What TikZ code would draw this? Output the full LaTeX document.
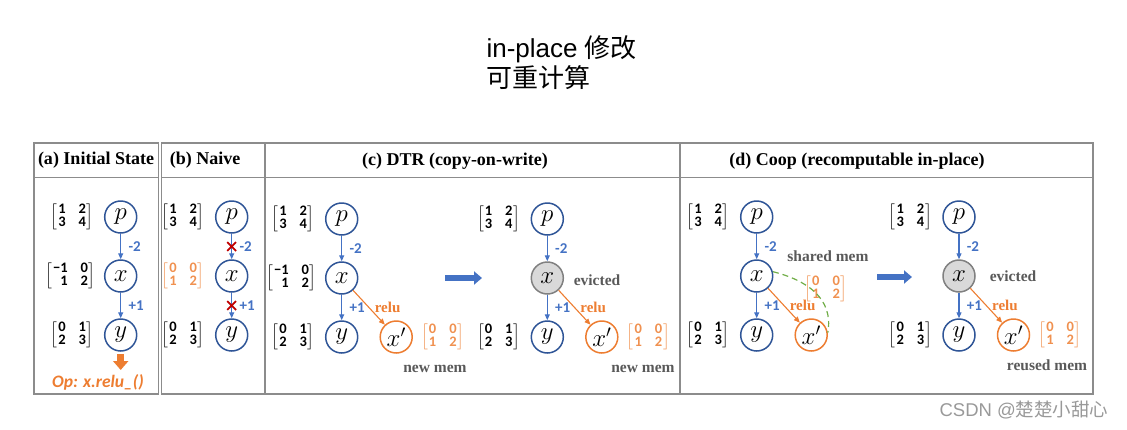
\documentclass[tikz,border=0pt]{standalone}
\usepackage{amsmath}
\usepackage{fontspec}
\setmainfont{Liberation Serif}
\setsansfont{Liberation Sans}
\newfontfamily\calfont{Carlito}
\newfontfamily\cjkfont{Noto Sans CJK SC}
\usetikzlibrary{positioning, arrows.meta, calc, shapes.misc}
\definecolor{cBlue}{HTML}{4472C4}
\definecolor{cNavy}{HTML}{2F5597}
\definecolor{cOrange}{HTML}{ED7D31}
\definecolor{cRed}{HTML}{C00000}
\definecolor{cGreen}{HTML}{70AD47}
\definecolor{cGray}{HTML}{595959}
\definecolor{cFrame}{HTML}{8C8C8C}

% 2x2 matrix with bold digits
\newcommand{\tmat}[4]{{\def\arraystretch{0.86}%
    $\left[\begin{array}{@{\hspace{1pt}}r@{\hspace{13pt}}r@{\hspace{1pt}}}
    \text{#1} & \text{#2}\\ \text{#3} & \text{#4}
    \end{array}\right]$}}

\begin{document}
\begin{tikzpicture}[
    x=1pt, y=-1pt,
    >=Latex,
    circ/.style={
        circle, draw=cNavy, line width=1.5pt, minimum size=32pt,
        inner sep=0pt, fill=white, font=\fontsize{24}{24}\selectfont
    },
    ocirc/.style={circ, draw=cOrange},
    evic/.style={draw=black!50, fill=black!15},
    mat/.style={inner sep=0pt, font=\calfont\bfseries\fontsize{14.5}{15}\selectfont},
    omat/.style={mat, text=cOrange!85},
    arr/.style={-{Triangle[length=6pt, width=5pt]}, line width=1.1pt, draw=cBlue},
    oarr/.style={arr, draw=cOrange},
    lab/.style={font=\calfont\bfseries\fontsize{15}{15}\selectfont, text=cBlue},
    olab/.style={font=\bfseries\fontsize{15}{15}\selectfont, text=cOrange},
    note/.style={font=\bfseries\fontsize{15.5}{16}\selectfont, text=cGray, inner sep=1pt},
    head/.style={font=\bfseries\fontsize{18}{20}\selectfont},
    frame/.style={draw=cFrame, line width=1.3pt},
    bigarr/.style={line width=6pt, draw=cBlue, -{Triangle[length=8pt, width=13pt]}},
    xmark/.style={cross out, draw=cRed, line width=1.8pt, minimum size=7pt, inner sep=0pt},
    share/.style={draw=cGreen, line width=1.2pt, dash pattern=on 6pt off 4pt},
]
\useasboundingbox (0,0) rectangle (1127,429);

% --- Helper: p -> x -> y chain (#1 = prefix, #2 = x, #3 = y of p, #4 = style of x) ---
\newcommand{\drawchain}[4]{%
    \node[circ] (#1P) at (#2, #3) {$p$};
    \node[circ, #4] (#1X) at (#2, #3+59) {$x$};
    \node[circ] (#1Y) at (#2, #3+118) {$y$};
    \node[mat, left=10pt of #1P] (#1MP) {\tmat{1}{2}{3}{4}};
    \node[mat, left=10pt of #1Y] (#1MY) {\tmat{0}{1}{2}{3}};
    \draw[arr] (#1P) -- (#1X) node[lab, midway, right=4pt] {-2};
    \draw[arr] (#1X) -- (#1Y) node[lab, midway, right=4pt] {+1};
}

% =============================================
% TITLE
% =============================================
\node[font=\sffamily\fontsize{26}{30}\selectfont, align=left, anchor=west] (title)
    at (483,63) {in-place {\cjkfont 修改}\\{\cjkfont 可重计算}};

% =============================================
% TABLE FRAME
% =============================================
\draw[frame] (34,143) rectangle (158.5,394);
\draw[frame] (161.5,143) rectangle (1093,394);
\draw[frame] (34,177.5) -- (158.5,177.5);
\draw[frame] (161.5,177.5) -- (1093,177.5);
\draw[frame] (265,143) -- (265,394);
\draw[frame] (680,143) -- (680,394);

\node[head] (hA) at (96,160) {(a) Initial State};
\node[head] (hB) at (205,160) {(b) Naive};
\node[head] (hC) at (455,161) {(c) DTR (copy-on-write)};
\node[head] (hD) at (857,161) {(d) Coop (recomputable in-place)};

% =============================================
% (a) INITIAL STATE
% =============================================
\drawchain{a}{120.7}{217}{}
\node[mat, left=8pt of aX] (aMX) {\tmat{−1}{0}{1}{2}};

\node[font=\calfont\bfseries\itshape\fontsize{17.5}{18}\selectfont, text=cOrange] (aOp)
    at (98,382) {Op: x.relu\_()};
\coordinate (aOpTop) at (120.7,370);
\draw[line width=6.5pt, draw=cOrange, -{Triangle[length=9pt, width=15pt]}, shorten <=2pt]
    (aY) -- (aOpTop);

% =============================================
% (b) NAIVE
% =============================================
\drawchain{b}{231.7}{217}{}
\node[omat, left=10pt of bX] (bMX) {\tmat{0}{0}{1}{2}};
\node[xmark] (bCr1) at ($(bP)!0.5!(bX)$) {};
\node[xmark] (bCr2) at ($(bX)!0.5!(bY)$) {};

% =============================================
% (c) DTR (copy-on-write)
% =============================================
\drawchain{c1}{341.7}{219}{}
\node[mat, left=8pt of c1X] (c1MX) {\tmat{−1}{0}{1}{2}};
\node[circ, ocirc, right=21pt of c1Y] (c1Xp) {$x'$};
\node[omat, right=8pt of c1Xp] (c1MXp) {\tmat{0}{0}{1}{2}};
\draw[oarr] (c1X) -- (c1Xp) node[olab, midway, right=2pt] {relu};
\node[note] (c1New) at (435,369) {new mem};

\coordinate (cArrS) at (445,278);
\coordinate (cArrE) at (482,278);
\draw[bigarr] (cArrS) -- (cArrE);

\drawchain{c2}{547.3}{219}{evic}
\node[circ, ocirc, right=21pt of c2Y] (c2Xp) {$x'$};
\node[omat, right=8pt of c2Xp] (c2MXp) {\tmat{0}{0}{1}{2}};
\draw[oarr] (c2X) -- (c2Xp) node[olab, midway, right=2pt] {relu};
\node[note] (c2Ev) at (597,280) {evicted};
\node[note] (c2New) at (643,369) {new mem};

% =============================================
% (d) COOP (recomputable in-place)
% =============================================
\drawchain{d1}{756.7}{217}{}
\node[circ, ocirc, right=21pt of d1Y] (d1Xp) {$x'$};
\draw[oarr] (d1X) -- (d1Xp) node[olab, midway, right=2pt] {relu};
\node[note] (dShared) at (828,256) {shared mem};
\node[omat] (dMS) at (826,289) {\tmat{0}{0}{1}{2}};
\draw[share] (d1X.15) .. controls (806,280) and (834,298) .. (d1Xp.8);

\coordinate (dArrS) at (877,277);
\coordinate (dArrE) at (912,277);
\draw[bigarr] (dArrS) -- (dArrE);

\drawchain{d2}{959}{217}{evic}
\node[circ, ocirc, right=21pt of d2Y] (d2Xp) {$x'$};
\node[omat, right=8pt of d2Xp] (d2MXp) {\tmat{0}{0}{1}{2}};
\draw[oarr] (d2X) -- (d2Xp) node[olab, midway, right=2pt] {relu};
\node[note] (d2Ev) at (1013,276) {evicted};
\node[note] (d2Reused) at (1047,365) {reused mem};

% watermark
\node[font=\sffamily\fontsize{18.5}{19}\selectfont, text=black!40, anchor=east] (wm)
    at (1112,410) {CSDN @{\cjkfont 楚楚小甜心}};

\end{tikzpicture}
\end{document}
